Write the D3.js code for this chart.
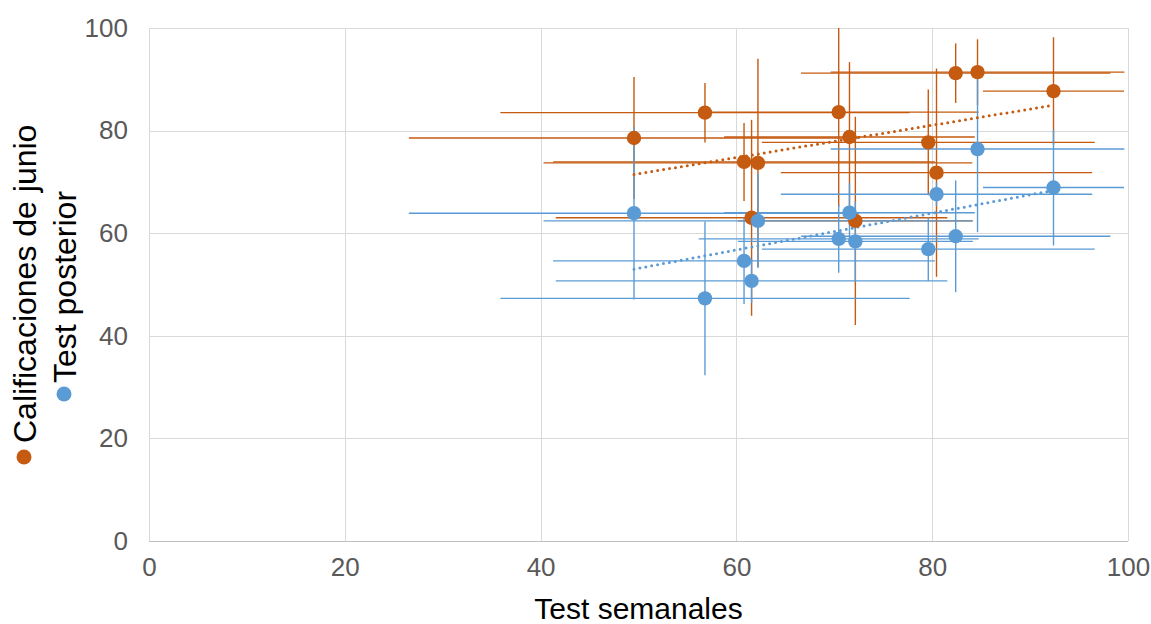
<!DOCTYPE html>
<html><head><meta charset="utf-8">
<script src="https://cdn.jsdelivr.net/npm/d3@7"></script>
<style>body{margin:0;background:#fff} svg{display:block} text{font-family:"Liberation Sans",Arial,sans-serif}</style>
</head><body><svg id="c" width="1151" height="624"></svg>
<script>
// ---- data ----
const testSemanales   = [49.54, 56.79, 60.78, 61.55, 62.2, 70.45, 71.55, 72.15, 79.6, 80.44, 82.4, 84.63, 92.39];
const errSemanales    = [23.0, 20.9, 19.5, 20.0, 21.9, 14.3, 12.8, 12.0, 17.0, 15.9, 15.8, 15.0, 7.2];
const calificaciones  = [78.56, 83.5, 73.9, 63.0, 73.7, 83.6, 78.75, 62.4, 77.7, 71.8, 91.2, 91.4, 87.7];
const errCalif        = [11.9, 5.8, 7.6, 19.1, 20.3, 18.5, 14.6, 20.3, 10.3, 20.3, 5.8, 6.4, 10.5];
const testPosterior   = [63.9, 47.3, 54.6, 50.7, 62.4, 58.9, 64.0, 58.4, 56.9, 67.6, 59.4, 76.4, 68.9];
const errPosterior    = [16.8, 15.0, 8.4, 4.3, 9.2, 6.6, 5.8, 7.8, 6.2, 2.3, 10.9, 16.2, 11.3];
const xTicks = [0, 20, 40, 60, 80, 100];
const yTicks = [0, 20, 40, 60, 80, 100];
const seriesNames = ["Calificaciones de junio", "Test posterior"];
const seriesColors = ["#C55A11", "#5B9BD5"];

// ---- layout ----
const svg = d3.select("#c");
const L = 149, R = 1128, T = 28, B = 541;
const x = d3.scaleLinear().domain([0, 100]).range([L, R]);
const y = d3.scaleLinear().domain([0, 100]).range([B, T]);

svg.append("defs").append("clipPath").attr("id", "plot")
  .append("rect").attr("x", L).attr("y", T).attr("width", R - L).attr("height", B - T);

// gridlines
const grid = svg.append("g");
grid.selectAll(".gx").data(xTicks.filter(d => d > 0)).join("line")
  .attr("x1", d => Math.round(x(d)) + 0.5).attr("x2", d => Math.round(x(d)) + 0.5)
  .attr("y1", T).attr("y2", B).attr("stroke", "#d9d9d9").attr("stroke-width", 1);
grid.selectAll(".gy").data(yTicks.filter(d => d > 0)).join("line")
  .attr("y1", d => Math.round(y(d)) + 0.5).attr("y2", d => Math.round(y(d)) + 0.5)
  .attr("x1", L).attr("x2", R).attr("stroke", "#d9d9d9").attr("stroke-width", 1);
// axis lines
svg.append("line").attr("x1", L).attr("x2", R).attr("y1", B + 0.5).attr("y2", B + 0.5).attr("stroke", "#bfbfbf");
svg.append("line").attr("x1", L + 0.5).attr("x2", L + 0.5).attr("y1", T).attr("y2", B).attr("stroke", "#d9d9d9");

// axes (labels)
const ax = svg.append("g").attr("transform", `translate(0,${B})`)
  .call(d3.axisBottom(x).tickValues(xTicks).tickSize(0).tickPadding(17));
const ay = svg.append("g").attr("transform", `translate(${L},0)`)
  .call(d3.axisLeft(y).tickValues(yTicks).tickSize(0).tickPadding(21));
[ax, ay].forEach(g => {
  g.select(".domain").remove();
  g.selectAll("text").attr("font-size", 26).attr("fill", "#595959")
    .attr("font-family", '"Liberation Sans",Arial,sans-serif');
});

// axis title
svg.append("text").attr("x", (L + R) / 2).attr("y", 619).attr("text-anchor", "middle")
  .attr("font-size", 30).attr("fill", "#000").text("Test semanales");

// series data
const series = [
  { ys: calificaciones, ey: errCalif, color: seriesColors[0] },
  { ys: testPosterior, ey: errPosterior, color: seriesColors[1] }
];

const plot = svg.append("g").attr("clip-path", "url(#plot)");
// error bars
series.forEach(s => {
  const g = plot.append("g").attr("stroke", s.color).attr("stroke-width", 1.4);
  testSemanales.forEach((xv, i) => {
    g.append("line").attr("x1", x(xv - errSemanales[i])).attr("x2", x(xv + errSemanales[i]))
      .attr("y1", y(s.ys[i])).attr("y2", y(s.ys[i]));
    g.append("line").attr("x1", x(xv)).attr("x2", x(xv))
      .attr("y1", y(s.ys[i] - s.ey[i])).attr("y2", y(s.ys[i] + s.ey[i]));
  });
});

// linear trendlines
series.forEach(s => {
  const n = testSemanales.length;
  const mx = d3.mean(testSemanales), my = d3.mean(s.ys);
  let sxy = 0, sxx = 0;
  for (let i = 0; i < n; i++) { sxy += (testSemanales[i] - mx) * (s.ys[i] - my); sxx += (testSemanales[i] - mx) ** 2; }
  const b = sxy / sxx, a = my - b * mx;
  const x0 = d3.min(testSemanales), x1 = d3.max(testSemanales);
  plot.append("line").attr("x1", x(x0)).attr("y1", y(a + b * x0)).attr("x2", x(x1)).attr("y2", y(a + b * x1))
    .attr("stroke", s.color).attr("stroke-width", 3).attr("stroke-linecap", "round")
    .attr("stroke-dasharray", "0 6");
});

// markers
series.forEach(s => {
  plot.append("g").selectAll("circle").data(testSemanales).join("circle")
    .attr("cx", d => x(d)).attr("cy", (d, i) => y(s.ys[i])).attr("r", 7.2).attr("fill", s.color);
});

// legend (rotated)
const leg = [{ tx: 35.5, ty: 443, cx: 24, cy: 457 }, { tx: 75.5, ty: 383, cx: 64, cy: 394 }];
leg.forEach((p, i) => {
  svg.append("circle").attr("cx", p.cx).attr("cy", p.cy).attr("r", 7.5).attr("fill", seriesColors[i]);
  svg.append("text").attr("transform", `translate(${p.tx},${p.ty}) rotate(-90)`)
    .attr("font-size", 32).attr("fill", "#000").text(seriesNames[i]);
});
</script></body></html>
